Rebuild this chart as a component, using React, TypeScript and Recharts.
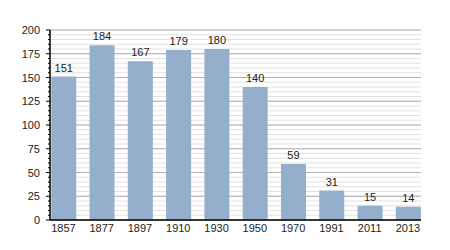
import { Bar, BarChart, CartesianGrid, LabelList, XAxis, YAxis } from "recharts";

const years = ["1857", "1877", "1897", "1910", "1930", "1950", "1970", "1991", "2011", "2013"];
const population = [151, 184, 167, 179, 180, 140, 59, 31, 15, 14];

const majorTicks = [0, 25, 50, 75, 100, 125, 150, 175, 200];
const minorTicks = Array.from({ length: 41 }, (_, i) => i * 5);

const data = years.map((year, i) => ({ idx: i, year, value: population[i] }));

const font = "'Liberation Sans', Arial, sans-serif";

function YTick(props: any) {
  const { x, y, payload } = props;
  const major = payload.value % 25 === 0;
  return (
    <g>
      <line x1={x - (major ? 4 : 2)} x2={x} y1={y} y2={y} stroke="#000" strokeWidth={1} />
      {major && (
        <text x={x - 10} y={y} dy={4} textAnchor="end" fontSize={11} fill="#222" fontFamily={font}>
          {payload.value}
        </text>
      )}
    </g>
  );
}

export default function App() {
  return (
    <div style={{ position: "absolute", left: 0, top: 0, background: "#fff" }}>
      <BarChart width={450} height={250} data={data} margin={{ top: 30, right: 29, left: 0, bottom: 0 }}>
        <CartesianGrid vertical={false} horizontalValues={minorTicks} stroke="#e2e2e2" />
        <CartesianGrid vertical={false} horizontalValues={majorTicks} stroke="#b0b0b0" />
        <XAxis
          dataKey="idx"
          type="number"
          domain={[-0.35, 9.34]}
          allowDataOverflow
          ticks={years.map((_, i) => i)}
          tickFormatter={(i: number) => years[i]}
          interval={0}
          height={30}
          tickLine={false}
          tickSize={0}
          tickMargin={4}
          axisLine={{ stroke: "#000", strokeWidth: 1.5 }}
          tick={{ fontSize: 11, fill: "#222", fontFamily: font }}
        />
        <YAxis
          width={50}
          domain={[0, 200]}
          ticks={minorTicks}
          interval={0}
          tickLine={false}
          tickSize={0}
          tickMargin={0}
          axisLine={{ stroke: "#000", strokeWidth: 1.5 }}
          tick={<YTick />}
        />
        <Bar dataKey="value" fill="#94aecb" barSize={25} isAnimationActive={false}>
          <LabelList dataKey="value" position="top" offset={5} fontSize={11} fill="#222" fontFamily={font} />
        </Bar>
      </BarChart>
    </div>
  );
}
